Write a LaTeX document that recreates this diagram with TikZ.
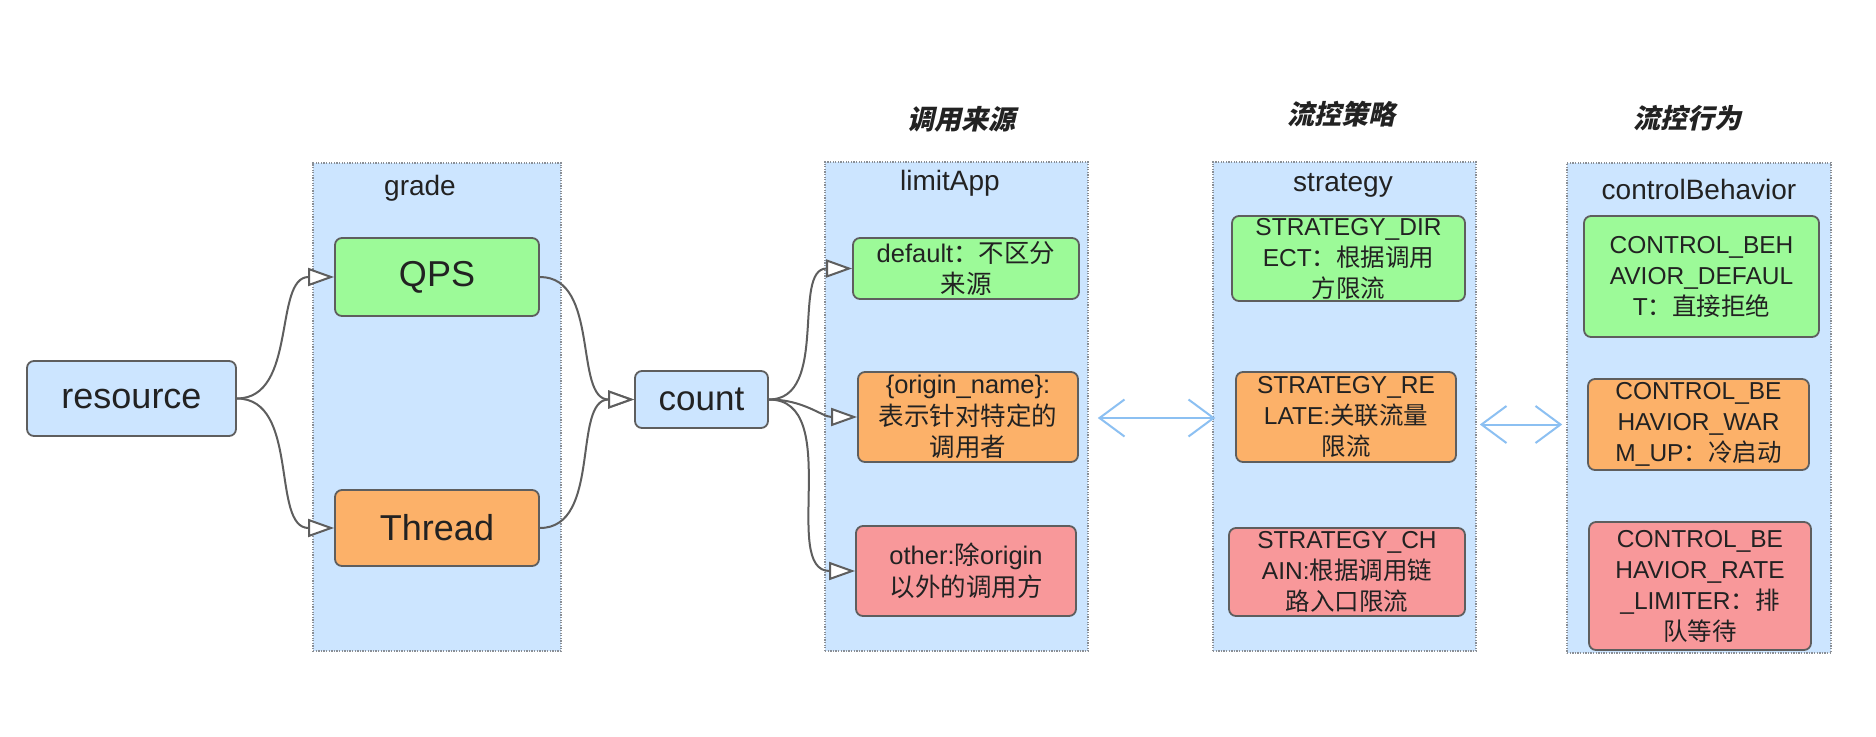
\documentclass[tikz,border=0pt]{standalone}
\usepackage{fontspec}
\setmainfont{Liberation Sans}
\newfontfamily\cjk{Noto Sans CJK SC}
\newfontfamily\cjktitle[FakeSlant=0.22]{Noto Sans CJK SC}
\newcommand\zh[1]{{\cjk #1}}
\usetikzlibrary{arrows.meta,calc}
\definecolor{cont}{HTML}{CCE5FF}
\definecolor{grn}{HTML}{9CFA98}
\definecolor{org}{HTML}{FCB169}
\definecolor{pnk}{HTML}{F8989A}
\definecolor{edgec}{HTML}{5E5E5E}
\definecolor{txt}{HTML}{222222}
\definecolor{dblc}{HTML}{8CC0F2}
\definecolor{dotc}{HTML}{8A8F96}
\tikzset{
 container/.style={draw=dotc, fill=cont, dash pattern=on 1.3pt off 1.3pt, line width=1.6pt, rectangle, inner sep=0pt},
 box/.style={draw=edgec, line width=1.8pt, rounded corners=7pt, align=center, text=txt, inner sep=0pt, font=\fontsize{24.5}{31}\selectfont},
 lbox/.style={box, font=\fontsize{25.5}{31.5}\selectfont},
 bigbox/.style={box, font=\fontsize{36}{40}\selectfont},
 lbl/.style={text=txt, font=\fontsize{28}{32}\selectfont, inner sep=0pt},
 ttl/.style={text=txt, font=\cjktitle\bfseries\fontsize{27}{30}\selectfont, inner sep=0pt},
 conn/.style={draw=edgec, line width=2pt, -{Triangle[open,fill=white,length=26pt,width=18pt]}},
 biarrow/.style={draw=dblc, line width=2pt, {Straight Barb[length=25pt,width=37pt]}-{Straight Barb[length=25pt,width=37pt]}},
}
\begin{document}
\begin{tikzpicture}[x=1pt,y=-1pt]
\useasboundingbox[fill=white] (0,0) rectangle (1876,736);
% containers
\node[container, minimum width=248, minimum height=488] (gradeC) at (437,407) {};
\node[container, minimum width=263, minimum height=489] (limC) at (956.5,406.5) {};
\node[container, minimum width=263, minimum height=489] (stratC) at (1344.5,406.5) {};
\node[container, minimum width=264, minimum height=490] (cbC) at (1699,408) {};
% container labels
\node[lbl] (gradeL) at (420,188) {grade};
\node[lbl] (limL) at (950,183) {limitApp};
\node[lbl] (stratL) at (1343,185) {strategy};
\node[lbl] (cbL) at (1699,189) {controlBehavior};
% titles
\node[ttl] (t1) at (961,119) {调用来源};
\node[ttl] (t2) at (1341,114) {流控策略};
\node[ttl] (t3) at (1687,118) {流控行为};
% boxes
\node[bigbox, fill=cont, minimum width=209, minimum height=75] (res) at (131.5,398.5) {resource};
\node[bigbox, fill=grn, minimum width=204, minimum height=78] (qps) at (437,277) {QPS};
\node[bigbox, fill=org, minimum width=204, minimum height=76] (thr) at (437,528) {Thread};
\node[bigbox, fill=cont, minimum width=133, minimum height=57, font=\fontsize{35}{40}\selectfont] (cnt) at (701.5,399.5) {count};
\node[lbox, fill=grn, minimum width=226, minimum height=61] (dflt) at (966,268.5) {default\zh{：不区分}\\\zh{来源}};
\node[lbox, fill=org, minimum width=220, minimum height=90] (orig) at (968,417) {\{origin\_name\}:\\\zh{表示针对特定的}\\\zh{调用者}};
\node[lbox, fill=pnk, minimum width=220, minimum height=90] (oth) at (966,571) {other:\zh{除}origin\\\zh{以外的调用方}};
\node[box, fill=grn, minimum width=233, minimum height=85] (direct) at (1348.5,258.5) {STRATEGY\_DIR\\ECT\zh{：根据调用}\\\zh{方限流}};
\node[box, fill=org, minimum width=220, minimum height=90] (relate) at (1346,417) {STRATEGY\_RE\\LATE:\zh{关联流量}\\\zh{限流}};
\node[box, fill=pnk, minimum width=236, minimum height=88] (chain) at (1347,572) {STRATEGY\_CH\\AIN:\zh{根据调用链}\\\zh{路入口限流}};
\node[box, fill=grn, minimum width=235, minimum height=121] (cbdef) at (1701.5,276.5) {CONTROL\_BEH\\AVIOR\_DEFAUL\\T\zh{：直接拒绝}};
\node[box, fill=org, minimum width=221, minimum height=91] (warm) at (1698.5,424.5) {CONTROL\_BE\\HAVIOR\_WAR\\M\_UP\zh{：冷启动}};
\node[box, fill=pnk, minimum width=222, minimum height=128] (rate) at (1700,586) {CONTROL\_BE\\HAVIOR\_RATE\\\_LIMITER\zh{：排}\\\zh{队等待}};
% connectors
\draw[conn] (res.east) to[out=0,in=180] (qps.west);
\draw[conn] (res.east) to[out=0,in=180] (thr.west);
\draw[conn] (qps.east) to[out=0,in=180] (cnt.west);
\draw[conn] (thr.east) to[out=0,in=180] (cnt.west);
\draw[conn] (cnt.east) to[out=0,in=180] (dflt.west);
\draw[conn] (cnt.east) to[out=0,in=180] (orig.west);
\draw[conn] (cnt.east) to[out=0,in=180] (oth.west);
% double arrows
\draw[biarrow] ($(limC.east |- orig.center)+(9,1)$) -- ($(stratC.west |- orig.center)+(3,1)$);
\draw[biarrow] ($(stratC.east |- warm.center)+(3,0)$) -- ($(cbC.west |- warm.center)+(-4,0)$);
\end{tikzpicture}
\end{document}
